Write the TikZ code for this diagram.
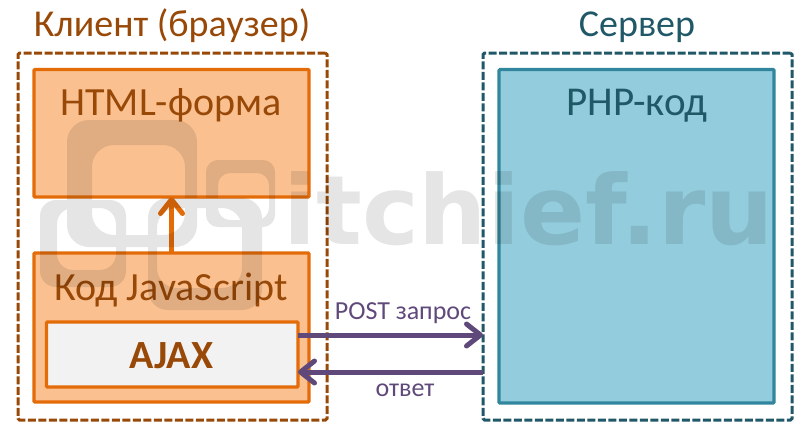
\documentclass[tikz,border=0pt]{standalone}
\usepackage{fontspec}
\setmainfont{Carlito}
\newfontfamily\wmfont{DejaVu Sans}
\usetikzlibrary{arrows.meta}
\definecolor{clientdark}{HTML}{984807}
\definecolor{clientline}{HTML}{E36C09}
\definecolor{clientfill}{HTML}{FAC090}
\definecolor{serverdark}{HTML}{215868}
\definecolor{serverline}{HTML}{31859C}
\definecolor{serverfill}{HTML}{93CDDD}
\definecolor{linkcol}{HTML}{5F497A}
\definecolor{ajaxfill}{HTML}{F2F2F2}
\tikzset{
  zone/.style={draw,line width=3pt,dash pattern=on 8pt off 2.5pt,rounded corners=1.5pt,inner sep=0pt,outer sep=0pt},
  panel/.style={draw=clientline,fill=clientfill,line width=3.2pt,rounded corners=1pt,inner sep=0pt,outer sep=0pt},
  srvpanel/.style={draw=serverline,fill=serverfill,line width=3.2pt,rounded corners=1pt,inner sep=0pt,outer sep=0pt},
  title/.style={font=\fontsize{38}{42}\selectfont,anchor=base},
  inner/.style={font=\fontsize{40}{44}\selectfont,anchor=base},
  linklabel/.style={text=linkcol,font=\fontsize{26}{30}\selectfont,anchor=base},
  link/.style={draw=linkcol,line width=5pt,-{Straight Barb[length=14pt,width=22pt,line width=5pt,round]}},
  raise/.style={draw=clientline,line width=5pt,-{Straight Barb[length=14pt,width=22pt,line width=5pt,round]}},
  logo/.style={fill=black,even odd rule}
}
\begin{document}
\begin{tikzpicture}[x=1pt,y=-1pt]
\useasboundingbox (0,0) rectangle (810,440);
\node[zone,draw=clientdark,minimum width=309pt,minimum height=367pt] (client) at (172.5,236.5) {};
\node[zone,draw=serverdark,minimum width=309pt,minimum height=367pt] (server) at (637.5,236.5) {};
\node[panel,minimum width=275pt,minimum height=127.5pt] (html) at (171.5,133.25) {};
\node[panel,minimum width=275pt,minimum height=149pt] (js) at (171.5,327.5) {};
\node[panel,fill=ajaxfill,minimum width=251.5pt,minimum height=65pt] (ajax) at (172.25,354.5) {};
\node[srvpanel,minimum width=275pt,minimum height=333.5pt] (php) at (636.5,236.25) {};
\node[title,text=clientdark] (clienttitle) at (172,36) {Клиент (браузер)};
\node[title,text=serverdark] (servertitle) at (637,36) {Сервер};
\node[inner,text=clientdark] (htmltext) at (171,115) {HTML-форма};
\node[inner,text=clientdark] (jstext) at (171,300) {Код JavaScript};
\node[inner,text=clientdark,font=\fontsize{40}{44}\selectfont\bfseries] (ajaxtext) at (171.5,368) {AJAX};
\node[inner,font=\fontsize{41}{44}\selectfont,text=serverdark] (phptext) at (637,115) {PHP-код};
\node[linklabel] (reqtext) at (403,319) {POST запрос};
\node[linklabel] (resptext) at (405,396) {ответ};
\coordinate (reqy) at (0,335);
\coordinate (respy) at (0,372);
\draw[raise] (js.north) -- (html.south);
\draw[link] (ajax.east |- reqy) -- (server.west |- reqy);
\draw[link] (server.west |- respy) -- (ajax.east |- respy);
\begin{scope}[transparency group,opacity=.1]
\path[logo,rounded corners=22pt] (67,120) rectangle (197,247) (92,145) rectangle (185,235);
\path[logo,rounded corners=16pt] (40,200) rectangle (126,287) (57,208) rectangle (116,270);
\path[logo,rounded corners=20pt] (148,198) rectangle (262,310) (157,208) rectangle (242,288);
\path[logo,rounded corners=12pt] (206,160) rectangle (275,227) (218,173) rectangle (269,220);
\node[anchor=base west,inner sep=0pt,text=black,font=\fontsize{96}{100}\selectfont\wmfont\bfseries] (mark) at (283,244) {itchief.ru};
\end{scope}
\end{tikzpicture}
\end{document}
